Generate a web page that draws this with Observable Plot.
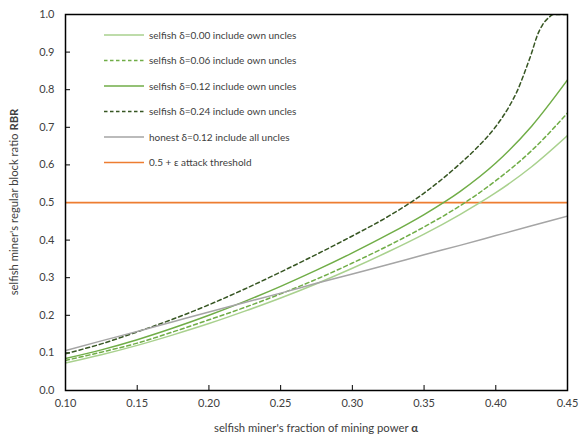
<!DOCTYPE html>
<html><head><meta charset="utf-8">
<script src="https://cdn.jsdelivr.net/npm/d3@7"></script>
<script src="https://cdn.jsdelivr.net/npm/@observablehq/plot@0.6"></script>
<style>
body{margin:0;background:#fff;}
svg{font-family:Lato,"Open Sans",sans-serif;}
</style>
</head><body><div id="chart"></div>
<script>
// ---- data ----
const alpha = [0.100,0.125,0.150,0.175,0.200,0.225,0.250,0.275,0.300,0.325,0.350,0.375,0.400,0.425,0.450];
const selfish000 = [0.073,0.095,0.120,0.148,0.178,0.211,0.246,0.284,0.325,0.369,0.416,0.468,0.526,0.595,0.678];
const selfish006 = [0.080,0.102,0.126,0.156,0.188,0.221,0.257,0.296,0.339,0.385,0.435,0.491,0.558,0.638,0.738];
const selfish012 = [0.085,0.108,0.135,0.166,0.200,0.237,0.277,0.320,0.366,0.415,0.468,0.529,0.605,0.703,0.826];
const honest012  = [0.106,0.132,0.157,0.183,0.209,0.234,0.259,0.285,0.310,0.335,0.361,0.386,0.412,0.438,0.464];
const alpha024   = [0.100,0.125,0.150,0.175,0.200,0.225,0.250,0.275,0.300,0.325,0.350,0.375,0.3875,0.400,0.410,0.415,0.420,0.425,0.429,0.4325,0.437,0.440,0.450];
const selfish024 = [0.098,0.124,0.156,0.190,0.228,0.270,0.315,0.362,0.411,0.463,0.525,0.603,0.648,0.702,0.760,0.797,0.845,0.898,0.945,0.972,0.992,1.000,1.000];
const threshold = [0.5];
const xTicks = [0.10,0.15,0.20,0.25,0.30,0.35,0.40,0.45];
const yTicks = [0,0.1,0.2,0.3,0.4,0.5,0.6,0.7,0.8,0.9,1.0];

const seriesNames = [
  "selfish δ=0.00 include own uncles",
  "selfish δ=0.06 include own uncles",
  "selfish δ=0.12 include own uncles",
  "selfish δ=0.24 include own uncles",
  "honest δ=0.12 include all uncles",
  "0.5 + ε attack threshold"
];
const seriesColors = ["#a9d18e","#70ad47","#70ad47","#375623","#a5a5a5","#ed7d31"];
const seriesDash = [null,"4,3",null,"4,3",null,null];

const toRows = (xs, ys, s) => xs.map((x,i)=>({x, y: ys[i], s}));
const lines = [
  toRows(alpha, selfish000, 0),
  toRows(alpha, selfish006, 1),
  toRows(alpha, selfish012, 2),
  toRows(alpha024, selfish024, 3),
  toRows(alpha, honest012, 4)
];

const textColor = "#404040";
const chart = Plot.plot({
  width: 579, height: 439,
  marginLeft: 65, marginRight: 12, marginTop: 14, marginBottom: 49,
  style: {fontFamily: "Lato, 'Open Sans', sans-serif", fontSize: "11px", color: textColor, background: "#fff"},
  x: {domain: [0.10, 0.45]},
  y: {domain: [0, 1]},
  marks: [
    Plot.axisX({ticks: xTicks, tickFormat: d3.format(".2f"), tickSize: 0, tickPadding: 9, label: null, fill: textColor}),
    Plot.axisX({ticks: xTicks, tickSize: 5, dy: -5, text: null, label: null, stroke: "#000", strokeWidth: 1}),
    Plot.axisY({ticks: yTicks, tickFormat: d3.format(".1f"), tickSize: 0, tickPadding: 11, label: null, fill: textColor}),
    Plot.axisY({ticks: yTicks, tickSize: 5, dx: 5, text: null, label: null, stroke: "#000", strokeWidth: 1}),
    Plot.ruleY(threshold, {stroke: seriesColors[5], strokeWidth: 1.75}),
    ...lines.map(rows => Plot.line(rows, {
      x: "x", y: "y", curve: "monotone-x",
      stroke: seriesColors[rows[0].s], strokeWidth: 1.5,
      strokeDasharray: seriesDash[rows[0].s] ?? undefined,
      clip: true
    })),
    Plot.frame({stroke: "#000", strokeWidth: 1.5})
  ]
});
document.getElementById("chart").appendChild(chart);

// ---- legend and axis titles ----
const svg = d3.select(chart);
const lg = svg.append("g").attr("font-size", "10px").attr("fill", textColor).attr("text-anchor", "start");
const rowY = [35, 60.5, 86, 111.5, 137, 162.5];
seriesNames.forEach((name, i) => {
  lg.append("line").attr("x1", 104).attr("x2", 144).attr("y1", rowY[i]).attr("y2", rowY[i])
    .attr("stroke", seriesColors[i]).attr("stroke-width", 1.5)
    .attr("stroke-dasharray", seriesDash[i] ? "3.5,2.5" : null);
  lg.append("text").attr("x", 149).attr("y", rowY[i]).attr("dy", "0.35em").text(name);
});

const xt = svg.append("text").attr("x", 316).attr("y", 432).attr("text-anchor", "middle")
  .attr("font-size", "11.3px").attr("fill", textColor);
xt.append("tspan").text("selfish miner's fraction of mining power ");
xt.append("tspan").attr("font-weight", "bold").text("α");

const yt = svg.append("text").attr("transform", "translate(18,202) rotate(-90)").attr("text-anchor", "middle")
  .attr("font-size", "11.3px").attr("fill", textColor);
yt.append("tspan").text("selfish miner's regular block ratio ");
yt.append("tspan").attr("font-weight", "bold").text("RBR");
</script>
</body></html>
